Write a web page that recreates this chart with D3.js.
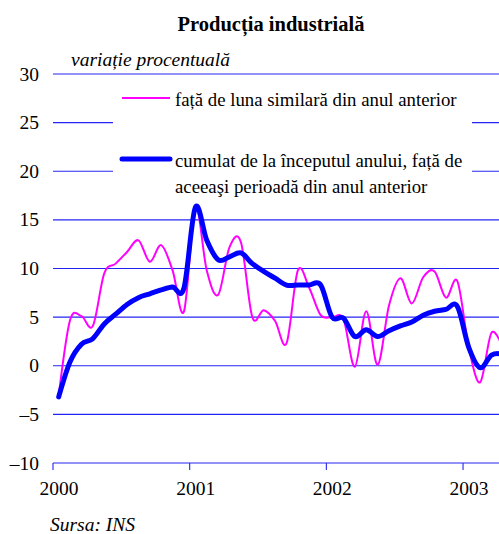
<!DOCTYPE html>
<html><head><meta charset="utf-8">
<script src="https://cdn.jsdelivr.net/npm/d3@7"></script>
<style>body{margin:0;background:#fff;} svg{display:block;}</style>
</head><body>
<svg id="c" width="499" height="534"></svg>
<script>
const years = ["2000","2001","2002","2003"];
const yTicks = [-10,-5,0,5,10,15,20,25,30];
const yoy = [-3.1,4.7,5.1,4.1,9.5,10.5,11.7,12.9,10.7,12.4,9.8,5.6,
  16.3,9.8,7.3,12.2,12.7,5.0,5.7,4.6,2.3,9.8,8.0,5.2,
  5.0,4.8,-0.1,5.6,0.1,6.2,9.0,6.4,9.1,9.7,7.0,8.7,
  1.9,-1.7,3.4,1.8];
const cumul = [-3.2,0.4,2.2,2.8,4.3,5.3,6.3,7.0,7.4,7.8,8.1,8.0,
  16.3,12.9,10.9,11.2,11.6,10.5,9.7,9.0,8.3,8.3,8.3,8.3,
  5.0,4.9,3.0,3.7,3.0,3.6,4.1,4.5,5.2,5.6,5.8,6.1,
  1.9,-0.2,1.1,1.2];
const legendLabels = ["față de luna similară din anul anterior",
  ["cumulat de la începutul anului, față de","aceeaşi perioadă din anul anterior"]];

const svg = d3.select("#c");
const L = 53, R = 499, T = 74, B = 463;
const monthW = 11.39;
const x = d3.scaleLinear().domain([0,40]).range([L, L+40*monthW]);
const y = d3.scaleLinear().domain([-10,30]).range([B, T]);
const gridCol = "#2424f2";
const FF = '"Liberation Serif"';
function txt(sel){ return sel.style("font-family",FF); }

txt(svg.append("text")).attr("x",271).attr("y",31).attr("text-anchor","middle")
  .attr("font-weight","bold").attr("font-size",20.5).text("Producția industrială");
txt(svg.append("text")).attr("x",71).attr("y",66)
  .attr("font-style","italic").attr("font-size",19.5).text("variație procentuală");

// gridlines
svg.append("g").selectAll("line").data(yTicks).join("line")
  .attr("x1",L).attr("x2",R).attr("y1",d=>y(d)).attr("y2",d=>y(d))
  .attr("stroke",gridCol).attr("stroke-width",1.1);
txt(svg.append("g").selectAll("text").data(yTicks).join("text"))
  .attr("x",39).attr("y",d=>y(d)+6.5).attr("text-anchor","end")
  .attr("font-size",19.5)
  .text(d=>d<0?"\u2013"+Math.abs(d):d);

// x ticks
svg.append("g").selectAll("line").data(years).join("line")
  .attr("x1",(d,i)=>x(i*12)).attr("x2",(d,i)=>x(i*12)).attr("y1",B).attr("y2",B+7)
  .attr("stroke",gridCol).attr("stroke-width",1.1);
txt(svg.append("g").selectAll("text").data(years).join("text"))
  .attr("x",(d,i)=>x(i*12)+6).attr("y",B+32).attr("text-anchor","middle")
  .attr("font-size",19.5).text(d=>d);

// legend box
svg.append("rect").attr("x",113).attr("y",82).attr("width",359).attr("height",116).attr("fill","#fff");
svg.append("line").attr("x1",122).attr("x2",170).attr("y1",98).attr("y2",98).attr("stroke","#ff00ff").attr("stroke-width",2);
txt(svg.append("text")).attr("x",175).attr("y",106).attr("font-size",18.8).text(legendLabels[0]);
svg.append("line").attr("x1",122).attr("x2",170).attr("y1",159).attr("y2",159).attr("stroke","#0000ff").attr("stroke-width",5).attr("stroke-linecap","round");
txt(svg.append("text")).attr("x",175).attr("y",167).attr("font-size",18.8).text(legendLabels[1][0]);
txt(svg.append("text")).attr("x",175).attr("y",193).attr("font-size",18.8).text(legendLabels[1][1]);

svg.append("defs").append("clipPath").attr("id","clip").append("rect")
  .attr("x",L).attr("y",0).attr("width",R-L).attr("height",534);
const line = d3.line().x((d,i)=>x(i+0.5)).y(d=>y(d)).curve(d3.curveCatmullRom.alpha(0));
const g = svg.append("g").attr("clip-path","url(#clip)");
g.append("path").datum(yoy).attr("d",line).attr("fill","none").attr("stroke","#ff00ff").attr("stroke-width",2);
g.append("path").datum(cumul).attr("d",line).attr("fill","none").attr("stroke","#0000ff").attr("stroke-width",5).attr("stroke-linejoin","round").attr("stroke-linecap","round");

txt(svg.append("text")).attr("x",50).attr("y",531).attr("font-style","italic").attr("font-size",19.5).text("Sursa: INS");
</script>
</body></html>
